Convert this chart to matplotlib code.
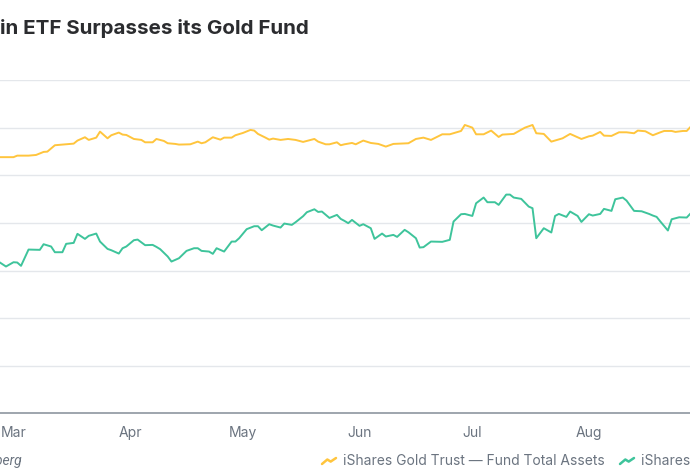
import numpy as np
import pandas as pd
import matplotlib
matplotlib.use("Agg")
import matplotlib.pyplot as plt
from matplotlib.lines import Line2D

plt.rcParams['font.family'] = ['Inter', 'DejaVu Sans']

# iShares Gold Trust - fund total assets (USD bn)
gold_dates = ['2024-02-26', '2024-03-01', '2024-03-02', '2024-03-05', '2024-03-07', '2024-03-09',
              '2024-03-10', '2024-03-12', '2024-03-14', '2024-03-17', '2024-03-18', '2024-03-20',
              '2024-03-21', '2024-03-23', '2024-03-24', '2024-03-26', '2024-03-27', '2024-03-29',
              '2024-03-30', '2024-03-31', '2024-04-02', '2024-04-04', '2024-04-05', '2024-04-07',
              '2024-04-08', '2024-04-10', '2024-04-11', '2024-04-13',
              '2024-04-14', '2024-04-17', '2024-04-19', '2024-04-20', '2024-04-21', '2024-04-23',
              '2024-04-25', '2024-04-26', '2024-04-28', '2024-04-29', '2024-05-01', '2024-05-03',
              '2024-05-04', '2024-05-05', '2024-05-07', '2024-05-08', '2024-05-09', '2024-05-11',
              '2024-05-13', '2024-05-15', '2024-05-17', '2024-05-20', '2024-05-21', '2024-05-23',
              '2024-05-24', '2024-05-26', '2024-05-27',
              '2024-05-28', '2024-05-30', '2024-05-31', '2024-06-02', '2024-06-04', '2024-06-06',
              '2024-06-08', '2024-06-10', '2024-06-14', '2024-06-16', '2024-06-18', '2024-06-20',
              '2024-06-23', '2024-06-25', '2024-06-28', '2024-06-29', '2024-07-01', '2024-07-02',
              '2024-07-04', '2024-07-06', '2024-07-08', '2024-07-09', '2024-07-12',
              '2024-07-15', '2024-07-17', '2024-07-18', '2024-07-20', '2024-07-22', '2024-07-25',
              '2024-07-27', '2024-07-30', '2024-08-01', '2024-08-02', '2024-08-04', '2024-08-05',
              '2024-08-07', '2024-08-09', '2024-08-11', '2024-08-13', '2024-08-14', '2024-08-16',
              '2024-08-18', '2024-08-20', '2024-08-21', '2024-08-23', '2024-08-24', '2024-08-26',
              '2024-08-27', '2024-08-28']
gold_values = [26.90, 26.90, 27.06, 27.06, 27.13, 27.45, 27.48, 28.15, 28.22, 28.32,
               28.64, 28.99, 28.71, 28.95, 29.58, 28.88, 29.20, 29.48, 29.27, 29.23,
               28.81, 28.71, 28.46, 28.46, 28.81, 28.60, 28.36, 28.29,
               28.22, 28.25, 28.53, 28.36, 28.46, 28.99, 28.74, 28.95, 28.95, 29.20,
               29.44, 29.76, 29.69, 29.34, 28.95, 28.74, 28.85, 28.71, 28.81, 28.71,
               28.50, 28.81, 28.53, 28.25, 28.25, 28.46, 28.15,
               28.25, 28.39, 28.25, 28.64, 28.39, 28.29, 28.01, 28.29, 28.36, 28.81,
               28.95, 28.71, 29.30, 29.30, 29.65, 30.28, 30.00, 29.30, 29.30, 29.69,
               29.02, 29.27, 29.34,
               30.00, 30.28, 29.41, 29.34, 28.53, 28.88, 29.34, 28.81, 29.09, 29.16,
               29.55, 29.16, 29.13, 29.51, 29.51, 29.41, 29.69, 29.62, 29.20, 29.51,
               29.65, 29.65, 29.55, 29.65, 29.65, 30.07]

# iShares Bitcoin Trust - fund total assets (USD bn)
btc_dates = ['2024-02-26', '2024-02-28', '2024-03-01', '2024-03-02', '2024-03-03', '2024-03-05',
             '2024-03-08', '2024-03-09', '2024-03-11', '2024-03-12', '2024-03-14', '2024-03-15',
             '2024-03-17', '2024-03-18', '2024-03-20', '2024-03-21', '2024-03-23', '2024-03-24',
             '2024-03-26', '2024-03-27', '2024-03-29', '2024-03-30', '2024-03-31', '2024-04-02',
             '2024-04-03', '2024-04-05', '2024-04-07', '2024-04-08', '2024-04-09', '2024-04-11',
             '2024-04-12',
             '2024-04-14', '2024-04-16', '2024-04-18', '2024-04-19', '2024-04-20', '2024-04-22',
             '2024-04-23', '2024-04-24', '2024-04-26', '2024-04-28', '2024-04-29', '2024-04-30',
             '2024-05-02', '2024-05-04', '2024-05-05', '2024-05-06', '2024-05-08', '2024-05-09',
             '2024-05-11', '2024-05-12', '2024-05-14', '2024-05-15', '2024-05-17', '2024-05-18',
             '2024-05-20', '2024-05-21', '2024-05-22', '2024-05-24', '2024-05-26', '2024-05-27',
             '2024-05-28', '2024-05-29', '2024-05-30', '2024-06-01', '2024-06-02', '2024-06-04',
             '2024-06-05', '2024-06-07', '2024-06-08', '2024-06-10', '2024-06-11', '2024-06-13',
             '2024-06-14', '2024-06-16', '2024-06-17', '2024-06-18', '2024-06-20', '2024-06-23',
             '2024-06-25', '2024-06-26', '2024-06-28', '2024-06-29', '2024-07-01', '2024-07-02',
             '2024-07-04', '2024-07-05', '2024-07-07', '2024-07-08', '2024-07-10', '2024-07-11',
             '2024-07-12', '2024-07-13',
             '2024-07-14', '2024-07-16', '2024-07-17', '2024-07-18', '2024-07-20', '2024-07-22',
             '2024-07-23', '2024-07-24', '2024-07-26', '2024-07-27', '2024-07-29', '2024-07-30',
             '2024-08-01', '2024-08-02', '2024-08-04', '2024-08-05', '2024-08-07', '2024-08-08',
             '2024-08-10', '2024-08-11', '2024-08-13', '2024-08-15', '2024-08-17', '2024-08-18',
             '2024-08-19', '2024-08-20', '2024-08-22', '2024-08-23', '2024-08-25', '2024-08-27',
             '2024-08-28']
btc_values = [15.94, 15.42, 15.87, 15.84, 15.49, 17.20, 17.17, 17.76, 17.52, 16.92,
              16.92, 17.80, 17.90, 18.85, 18.32, 18.64, 18.88, 18.04, 17.27, 17.13,
              16.78, 17.34, 17.52, 18.18, 18.25, 17.66, 17.69, 17.48, 17.24, 16.47,
              15.94,
              16.29, 17.06, 17.34, 17.34, 17.06, 16.99, 16.75, 17.34, 16.99, 18.04,
              18.04, 18.39, 19.34, 19.65, 19.65, 19.23, 19.86, 19.72, 19.51, 19.93,
              19.79, 20.07, 20.70, 21.12, 21.43, 21.15, 21.19, 20.52, 20.84, 20.42,
              20.21, 19.97, 20.31, 19.69, 19.86, 19.44, 18.32, 18.88, 18.57, 18.74,
              18.53, 19.27, 19.02, 18.39, 17.41, 17.45, 18.04, 18.01, 18.22, 20.14,
              20.91, 20.94, 20.73, 22.06, 22.66, 22.17, 22.17, 21.89, 22.97, 22.97,
              22.66, 22.59,
              22.52, 21.71, 21.54, 18.39, 19.44, 18.99, 20.73, 20.94, 20.63, 21.19,
              20.73, 20.10, 20.91, 20.77, 20.94, 21.47, 21.26, 22.48, 22.66, 22.34,
              21.26, 21.22, 20.94, 20.77, 20.63, 20.14, 19.20, 20.38, 20.59, 20.56,
              20.98]

month_ticks = ['2024-03-01', '2024-04-01', '2024-05-01', '2024-06-01', '2024-07-01', '2024-08-01']
month_labels = ['Mar', 'Apr', 'May', 'Jun', 'Jul', 'Aug']
grid_values = [5, 10, 15, 20, 25, 30, 35]

gold_color = '#FFC53D'
btc_color = '#3EC49B'
text_grey = '#6B7480'

W, H = 690, 469
fig = plt.figure(figsize=(W / 100, H / 100), dpi=100)
ax = fig.add_axes([0, (H - 413.4) / H, 1, (413.4 - 80) / H])

ax.plot(pd.to_datetime(gold_dates), gold_values, color=gold_color, lw=1.4)
ax.plot(pd.to_datetime(btc_dates), btc_values, color=btc_color, lw=1.4)

ax.set_xlim(pd.Timestamp('2024-02-26 09:50'), pd.Timestamp('2024-08-27 21:00'))
ax.set_ylim(0, 35)
ax.set_yticks(grid_values)
ax.set_yticklabels([])
ax.yaxis.grid(True, color='#E4E7EB', lw=1.0)
ax.set_axisbelow(True)
ax.set_xticks(pd.to_datetime(month_ticks))
ax.set_xticklabels(month_labels)
ax.tick_params(axis='x', length=0, pad=9, labelsize=10, labelcolor=text_grey)
ax.tick_params(axis='y', length=0)
for s in ['top', 'left', 'right']:
    ax.spines[s].set_visible(False)
ax.spines['bottom'].set_color('#8E969F')
ax.spines['bottom'].set_linewidth(1.2)

# title and source are cropped at the left edge, as in the reference
fig.text(0, 1 - 33.5 / H, 'in ETF Surpasses its Gold Fund', fontsize=14.8,
         fontweight='bold', color='#2B2C2F', va='baseline', ha='left')

fig.text(22 / W, 1 - 465 / H, 'Source: Bloomberg', fontsize=10, style='italic',
         family=['Roboto', 'DejaVu Sans'], color=text_grey, va='baseline', ha='right')

# legend with small zigzag icons
icon_x = np.array([0, 0.38, 0.62, 1.0])
icon_y = np.array([0, 0.75, 0.4, 1.0])
for x0, col, label in [(322, gold_color, 'iShares Gold Trust — Fund Total Assets'),
                       (620, btc_color, 'iShares Bitcoin Trust — Fund Total Assets')]:
    xs = (x0 + icon_x * 14) / W
    ys = 1 - (464 - icon_y * 6) / H
    fig.add_artist(Line2D(xs, ys, color=col, lw=1.8, transform=fig.transFigure,
                          solid_capstyle='round', solid_joinstyle='round'))
    fig.text((x0 + 21) / W, 1 - 465 / H, label, fontsize=10, color=text_grey,
             va='baseline', ha='left')

fig.savefig('out.png', dpi=100)
